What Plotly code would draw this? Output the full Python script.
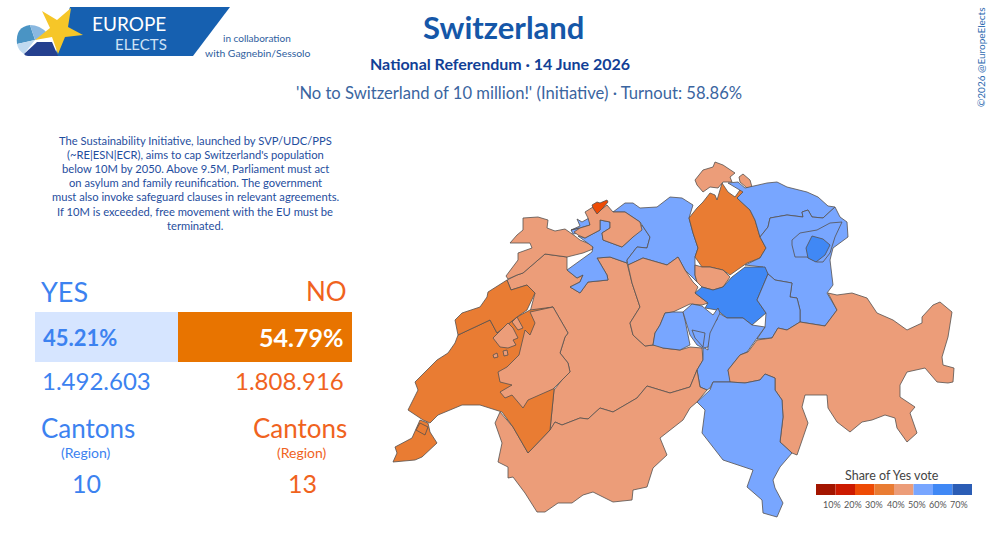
"""Swiss national referendum, 14 June 2026: canton map and result panel."""
import plotly.graph_objects as go

# canton outlines, in picture units
BE = [(507,280),(517,275),(523,273),(535,263),(545,254),(567,257),(567,270),(577,278),(583,275),(580,282),(570,287),(580,293),(588,282),(608,280),(607,275),(597,258),(610,257),(627,263),(632,283),(640,307),(630,323),(633,335),(645,346),(653,345),(657,345),(663,348),(680,350),(690,347),(702,348),(703,360),(697,370),(690,387),(670,393),(647,386),(637,398),(613,412),(600,408),(588,419),(580,418),(562,425),(555,422),(552,428),(550,430),(554,390),(562,380),(570,372),(568,363),(560,353),(565,337),(568,333),(553,307),(530,312),(535,293),(527,285),(511,290)]
JU = [(523,218),(538,217),(548,220),(547,228),(555,231),(565,229),(575,236),(580,240),(592,245),(593,249),(583,253),(567,257),(545,254),(535,263),(523,273),(517,275),(508,279),(506,276),(518,260),(518,253),(532,248),(530,243),(510,243),(517,235),(523,230)]
SO = [(578,236),(585,238),(600,230),(600,220),(610,222),(610,228),(602,233),(603,240),(622,247),(633,237),(642,225),(650,237),(647,248),(637,247),(627,260),(627,263),(610,257),(597,258),(607,275),(608,280),(588,282),(580,293),(570,287),(580,282),(583,275),(577,278),(567,270),(578,262),(592,252),(593,247)]
SO_NORTH = [(577,219),(582,222),(589,218),(590,225),(580,228),(571,230),(579,228),(580,233),(573,234),(571,230),(580,226)]
AG = [(613,212),(625,203),(633,203),(640,208),(657,207),(670,197),(682,198),(693,205),(689,218),(693,233),(698,248),(695,257),(695,275),(697,282),(685,270),(678,257),(667,265),(643,258),(628,265),(627,260),(637,247),(647,248),(650,237),(642,225),(640,222),(625,212)]
BL = [(585,212),(593,207),(597,213),(607,205),(613,212),(625,212),(640,222),(642,230),(633,237),(622,247),(603,240),(602,233),(610,228),(610,222),(600,220),(600,230),(585,238),(578,235),(574,232),(580,228),(590,225),(588,218)]
BS = [(592,205),(597,202),(600,203),(607,200),(608,202),(603,208),(597,214),(593,208)]
LU = [(628,265),(643,258),(667,265),(678,257),(685,270),(693,282),(698,287),(695,293),(708,303),(702,305),(690,304),(673,312),(665,313),(660,325),(655,333),(653,345),(645,346),(633,335),(630,323),(640,307),(632,283)]
ZH = [(722,183),(725,188),(728,192),(735,197),(742,187),(747,192),(737,198),(750,210),(755,220),(758,230),(760,237),(766,248),(760,258),(747,263),(730,275),(723,270),(710,267),(702,267),(695,257),(698,248),(693,233),(689,218),(697,208),(703,202),(710,193),(715,195),(717,200),(720,190)]
SH = [(695,180),(703,170),(713,167),(715,162),(723,165),(728,168),(735,173),(730,177),(732,182),(723,182),(718,188),(710,187),(703,192),(697,185)]
SH_EAST = [(739,177),(743,174),(750,180),(752,187),(747,188),(740,182)]
TG = [(728,183),(738,182),(745,188),(767,183),(777,182),(787,187),(807,192),(818,197),(828,206),(835,207),(823,218),(812,217),(808,210),(802,212),(803,217),(787,215),(770,218),(768,227),(760,237),(758,230),(755,220),(750,210),(737,198),(743,192)]
SG = [(760,237),(768,227),(770,218),(787,215),(803,217),(802,212),(808,210),(812,217),(823,218),(835,207),(840,217),(847,222),(848,237),(833,248),(830,260),(833,285),(827,293),(837,310),(825,326),(800,322),(800,310),(797,298),(790,297),(792,283),(775,280),(768,274),(763,267),(745,265),(760,258),(766,248)]
AR = [(792,240),(800,233),(817,230),(830,223),(842,222),(835,237),(830,253),(823,262),(817,262),(807,257),(795,257),(792,245)]
AI = [(812,236),(823,239),(830,245),(825,255),(816,262),(808,258),(806,248)]
ZG = [(695,265),(702,267),(710,267),(723,270),(730,277),(723,287),(713,290),(702,287),(697,282),(695,275)]
SZ = [(695,293),(702,287),(713,290),(723,287),(732,277),(745,267),(765,267),(768,274),(757,300),(766,313),(752,325),(743,318),(727,318),(717,310),(705,308),(708,303)]
GL = [(768,274),(775,280),(792,283),(790,297),(797,298),(800,310),(800,322),(787,330),(778,328),(772,338),(757,339),(765,327),(766,313),(757,300)]
UR = [(717,312),(727,318),(743,318),(752,325),(765,327),(757,338),(747,352),(740,355),(728,370),(731,382),(713,382),(710,388),(707,390),(700,387),(697,370),(703,360),(703,347),(708,350),(707,330),(717,320)]
OW = [(653,345),(655,333),(660,325),(665,313),(673,312),(683,312),(685,320),(688,335),(690,345),(680,350),(663,348)]
NW = [(683,312),(692,304),(702,306),(707,310),(713,315),(718,308),(720,313),(710,333),(708,347),(703,348),(697,345),(690,335),(685,320)]
OW_EAST = [(692,330),(705,333),(703,347),(695,338)]
GR = [(730,382),(728,370),(740,355),(748,352),(757,340),(772,338),(778,328),(787,330),(800,322),(825,326),(837,310),(828,293),(837,295),(852,293),(867,298),(877,313),(893,320),(907,330),(922,323),(922,317),(933,305),(940,302),(952,312),(948,337),(942,357),(943,365),(954,368),(953,382),(948,383),(937,382),(925,368),(907,372),(900,385),(900,397),(915,407),(910,413),(917,433),(907,442),(897,428),(895,418),(885,415),(872,420),(862,422),(850,432),(837,422),(828,408),(827,395),(818,395),(805,395),(802,407),(808,423),(797,455),(792,453),(780,442),(783,417),(782,400),(775,390),(775,378),(765,374),(760,380),(745,383)]
TI = [(710,390),(713,382),(730,382),(745,383),(760,380),(765,374),(775,378),(775,390),(782,400),(783,417),(780,442),(792,453),(780,467),(773,480),(775,488),(783,503),(777,517),(763,513),(762,500),(747,487),(753,470),(738,465),(723,460),(702,433),(705,410),(697,402)]
VS = [(495,423),(500,412),(513,427),(528,453),(550,430),(555,422),(562,425),(580,418),(588,419),(600,408),(613,412),(637,398),(647,386),(670,393),(690,387),(697,370),(700,387),(707,390),(697,402),(690,408),(683,420),(660,438),(667,455),(653,468),(647,487),(633,490),(632,500),(613,502),(593,492),(583,495),(572,503),(558,503),(545,512),(537,512),(525,493),(513,477),(508,478),(508,467),(498,462),(502,443)]
VD = [(458,335),(490,320),(497,333),(517,317),(530,310),(553,307),(554,390),(550,430),(528,453),(513,427),(502,412),(480,405),(462,405),(438,415),(430,423),(423,420),(408,410),(418,390),(415,382),(437,360),(448,353),(455,343)]
NE = [(455,320),(462,313),(480,307),(487,297),(488,292),(507,280),(511,290),(527,285),(535,293),(527,310),(517,317),(497,333),(490,320),(458,335)]
FR = [(553,307),(530,312),(535,323),(530,335),(525,330),(522,342),(519,355),(512,362),(507,367),(498,372),(500,382),(512,385),(500,392),(505,398),(512,395),(523,408),(528,400),(553,389),(562,380),(570,372),(568,363),(560,353),(565,337),(568,333)]
FR_NORTH = [(493,338),(508,323),(513,328),(518,338),(513,340),(516,345),(508,348),(500,347)]
FR_STRIP = [(512,322),(517,317),(523,328),(518,330)]
FR_ISLE_1 = [(503,351),(507,350),(508,355),(504,356)]
FR_ISLE_2 = [(493,355),(497,353),(498,357),(494,358)]
GE = [(420,420),(415,432),(412,438),(395,447),(397,453),(393,462),(415,460),(422,457),(437,443),(430,432),(428,423)]
GE_BOX = [(416,430),(420,423),(428,427),(425,435)]

# Yes share per canton, estimated from the colour bins
CANTONS = [
    ("Bern", BE, 45), ("Jura", JU, 45), ("Solothurn", SO, 53), ("Solothurn", SO_NORTH, 53),
    ("Aargau", AG, 53), ("Basel-Landschaft", BL, 45), ("Basel-Stadt", BS, 27),
    ("Luzern", LU, 45), ("Zürich", ZH, 38), ("Schaffhausen", SH, 45), ("Schaffhausen", SH_EAST, 45),
    ("Thurgau", TG, 54), ("St. Gallen", SG, 54), ("Appenzell AR", AR, 54), ("Appenzell AI", AI, 62),
    ("Zug", ZG, 45), ("Schwyz", SZ, 63), ("Glarus", GL, 55), ("Uri", UR, 56),
    ("Obwalden", OW, 56), ("Nidwalden", NW, 56), ("Obwalden", OW_EAST, 56),
    ("Graubünden", GR, 44), ("Ticino", TI, 55), ("Valais", VS, 45), ("Vaud", VD, 37),
    ("Neuchâtel", NE, 37), ("Fribourg", FR, 44), ("Fribourg", FR_NORTH, 44),
    ("Fribourg", FR_STRIP, 44), ("Fribourg", FR_ISLE_1, 44), ("Fribourg", FR_ISLE_2, 44),
    ("Geneva", GE, 37), ("Geneva", GE_BOX, 37),
]

BIN_COLORS = ["#a31500", "#cc1a00", "#ee4b05", "#e97c33", "#ec9d79", "#78a6ff", "#4088f5", "#2b5db5"]
BIN_EDGES = [10, 20, 30, 40, 50, 60, 70]
LEGEND_LABELS = ["10%", "20%", "30%", "40%", "50%", "60%", "70%"]

YES_SHARE = 45.21
NO_SHARE = 54.79
YES_VOTES = "1.492.603"
NO_VOTES = "1.808.916"
YES_CANTONS = "10"
NO_CANTONS = "13"

BLURB = [
    "The Sustainability Initiative, launched by SVP/UDC/PPS",
    "(~RE|ESN|ECR), aims to cap Switzerland's population",
    "below 10M by 2050. Above 9.5M, Parliament must act",
    "on asylum and family reunification. The government",
    "must also invoke safeguard clauses in relevant agreements.",
    "If 10M is exceeded, free movement with the EU must be",
    "terminated.",
]

FONT = "Lato"
YES_COLOR = "#3c82f0"
NO_COLOR = "#f0631e"


def bin_color(share):
    for edge, color in zip(BIN_EDGES, BIN_COLORS):
        if share < edge:
            return color
    return BIN_COLORS[-1]


def note(text, x, y, size, color, anchor="center", bold=False, angle=0):
    if bold:
        text = f"<b>{text}</b>"
    fig.add_annotation(
        x=x, y=y, xref="x", yref="y", text=text, showarrow=False, textangle=angle,
        xanchor=anchor, yanchor="middle", align=anchor,
        font=dict(family=FONT, size=size, color=color),
    )


def poly_path(points):
    return "M" + "L".join(f"{x},{y}" for x, y in points) + "Z"


fig = go.Figure()

for name, outline, share in CANTONS:
    fig.add_trace(go.Scatter(
        x=[p[0] for p in outline] + [outline[0][0]],
        y=[p[1] for p in outline] + [outline[0][1]],
        mode="lines", fill="toself", fillcolor=bin_color(share),
        line=dict(color="#55504e", width=0.8),
        name=name, showlegend=False, hoverinfo="name",
    ))

# result bar on its own axes
fig.add_trace(go.Bar(
    x=[YES_SHARE], y=[0], orientation="h", marker=dict(color="#d6e5ff", line_width=0),
    width=1, xaxis="x2", yaxis="y2", showlegend=False,
))
fig.add_trace(go.Bar(
    x=[NO_SHARE], y=[0], orientation="h", marker=dict(color="#e87400", line_width=0),
    width=1, xaxis="x2", yaxis="y2", showlegend=False,
))

# logo
logo = [
    (poly_path([(70, 7), (230, 7), (193, 56), (55, 56)]), "#1660b0"),
    ("M35,40 L17,44 Q15,27 30,25 Z", "#4a94c4"),
    ("M35,40 L30,25 Q40,25 47,33 Z", "#8ab8e0"),
    ("M35,40 L17,44 Q18,50 24,54 Z", "#c0daf0"),
    ("M37,42 L52,42 L58,56 L28,56 Q25,56 24,54 Z", "#24408f"),
    (poly_path([(42, 11), (57, 20), (71, 8), (68, 27), (83, 35), (65, 37), (58, 54), (52, 37), (35, 40), (50, 28)]), "#f6c628"),
]
shapes = [dict(type="path", path=p, xref="x", yref="y", fillcolor=c, line_width=0) for p, c in logo]

# colour key
key_left, key_step = 816.0, 19.5
for i, color in enumerate(BIN_COLORS):
    shapes.append(dict(
        type="rect", xref="x", yref="y", x0=key_left + i * key_step, x1=key_left + (i + 1) * key_step,
        y0=484, y1=495, fillcolor=color, line_width=0,
    ))

fig.update_layout(
    width=1000, height=549, margin=dict(l=0, r=0, t=0, b=0),
    paper_bgcolor="white", plot_bgcolor="rgba(0,0,0,0)",
    barmode="stack", shapes=shapes,
    xaxis=dict(range=[0, 1000], visible=False, fixedrange=True, domain=[0, 1]),
    yaxis=dict(range=[549, 0], visible=False, fixedrange=True, domain=[0, 1]),
    xaxis2=dict(range=[0, 100], visible=False, domain=[0.035, 0.352], anchor="y2"),
    yaxis2=dict(range=[-0.5, 0.5], visible=False, domain=[1 - 362 / 549, 1 - 312 / 549], anchor="x2"),
)

note("EUROPE", 129, 23, 19, "#ffffff")
note("ELECTS", 141, 44, 15, "#cfe2f5")
note("in collaboration", 257, 38, 10, "#2e5e9e")
note("with Gagnebin/Sessolo", 257, 53, 10.4, "#2e5e9e")
note("Switzerland", 503, 27, 31, "#1557a8", bold=True)
note("National Referendum · 14 June 2026", 500, 63, 16, "#123f96", bold=True)
note("'No to Switzerland of 10 million!' (Initiative) · Turnout: 58.86%", 519, 93, 16.6, "#3a659f")
note("©2026 @EuropeElects", 981, 58, 10, "#2e6ab0", angle=-90)

for i, line in enumerate(BLURB):
    note(line, 195, 140 + i * 14.2, 11.2, "#1f4e9e")

note("YES", 39, 291, 27, YES_COLOR, anchor="left")
note("NO", 349, 291, 26, NO_COLOR, anchor="right")
note(f"{YES_SHARE:.2f}%", 41, 337, 22, YES_COLOR, anchor="left", bold=True)
note(f"{NO_SHARE:.2f}%", 345, 337, 25, "#ffffff", anchor="right", bold=True)
note(YES_VOTES, 40, 380, 24, YES_COLOR, anchor="left")
note(NO_VOTES, 346, 380, 24, NO_COLOR, anchor="right")
note("Cantons", 39, 428, 26, YES_COLOR, anchor="left")
note("Cantons", 349, 428, 26, NO_COLOR, anchor="right")
note("(Region)", 86, 452, 14, YES_COLOR)
note("(Region)", 302, 452, 14, NO_COLOR)
note(YES_CANTONS, 86, 483, 25, YES_COLOR)
note(NO_CANTONS, 302, 483, 25, NO_COLOR)

note("Share of Yes vote", 892, 475, 12.5, "#444444")
for i, label in enumerate(LEGEND_LABELS):
    note(label, key_left + 16 + i * 21.2, 504, 9, "#555555")

fig.write_html("out.html", config=dict(displayModeBar=False), post_script="document.body.style.margin='0';")
